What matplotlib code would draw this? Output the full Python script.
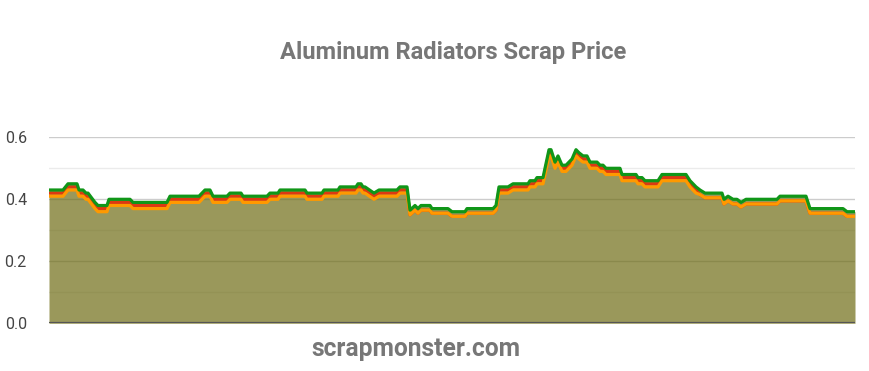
import matplotlib
matplotlib.use("Agg")
import matplotlib.pyplot as plt

# Day index of each vertex (no x labels in the reference)
day = [0, 14, 19, 28, 30, 34, 37, 39, 46, 49, 58, 60, 81, 84, 118, 121, 150, 156, 161, 164,
       178, 181, 192, 194, 218, 221, 229, 231, 256, 258, 273, 275, 289, 291, 307, 309, 312, 314, 316, 325,
       330, 348, 351, 358, 361, 366, 369, 372, 381, 383, 399, 403, 416, 418, 444, 447, 450, 459, 464, 479,
       481, 486, 488, 494, 500, 502, 506, 509, 513, 517, 520, 523, 527, 530, 534, 538, 541, 548, 551, 554,
       557, 571, 573, 587, 589, 593, 596, 609, 613, 637, 641, 644, 647, 651, 656, 673, 675, 679, 684, 688,
       692, 697, 728, 731, 757, 761, 794, 798, 806]

high = [.43, .43, .45, .45, .43, .43, .42, .42, .39, .38, .38, .40, .40, .39, .39, .41, .41, .43, .43, .41,
        .41, .42, .42, .41, .41, .42, .42, .43, .43, .42, .42, .43, .43, .44, .44, .45, .45, .44, .44, .42,
        .43, .43, .44, .44, .365, .38, .37, .38, .38, .37, .37, .36, .36, .37, .37, .38, .44, .44, .45, .45,
        .46, .46, .47, .47, .56, .56, .52, .54, .51, .51, .52, .53, .56, .55, .54, .54, .52, .52, .51, .51,
        .50, .50, .48, .48, .47, .47, .46, .46, .48, .48, .46, .45, .44, .43, .42, .42, .40, .41, .40, .40,
        .39, .40, .40, .41, .41, .37, .37, .36, .36]

mid = [.42, .42, .44, .44, .42, .42, .41, .41, .38, .37, .37, .39, .39, .38, .38, .40, .40, .42, .42, .40,
       .40, .41, .41, .40, .40, .41, .41, .42, .42, .41, .41, .42, .42, .43, .43, .44, .44, .43, .43, .41,
       .42, .42, .43, .43, .35, .365, .355, .365, .365, .355, .355, .345, .345, .355, .355, .365, .43, .43, .44, .44,
       .45, .45, .46, .46, .55, .55, .51, .53, .50, .50, .51, .52, .55, .54, .53, .53, .51, .51, .50, .50,
       .49, .49, .47, .47, .46, .46, .45, .45, .47, .47, .45, .44, .43, .415, .405, .405, .385, .395, .385, .385,
       .375, .385, .385, .395, .395, .355, .355, .345, .345]

low = [.41, .41, .43, .43, .41, .41, .40, .40, .37, .36, .36, .38, .38, .37, .37, .39, .39, .41, .41, .39,
       .39, .40, .40, .39, .39, .40, .40, .41, .41, .40, .40, .41, .41, .42, .42, .43, .43, .42, .42, .40,
       .41, .41, .42, .42, .35, .365, .355, .365, .365, .355, .355, .345, .345, .355, .355, .365, .42, .42, .43, .43,
       .44, .44, .45, .45, .54, .54, .50, .52, .49, .49, .50, .51, .54, .53, .52, .52, .50, .50, .49, .49,
       .48, .48, .46, .46, .45, .45, .44, .44, .46, .46, .44, .43, .42, .415, .405, .405, .385, .395, .385, .385,
       .375, .385, .385, .395, .395, .355, .355, .345, .345]

yticks = [0.0, 0.2, 0.4, 0.6]
ytick_labels = ["0.0", "0.2", "0.4", "0.6"]
minor_grid = [0.1, 0.3, 0.5]

title = "Aluminum Radiators Scrap Price"
watermark = "scrapmonster.com"

plt.rcParams['font.family'] = ['Roboto', 'DejaVu Sans']

fig = plt.figure(figsize=(8.69, 3.71), dpi=100)
ax = fig.add_axes([49/869, 1 - 323.3/371, (855 - 49)/869, (323.3 - 137.3)/371])

# gridlines (behind the translucent area)
for g in minor_grid:
    ax.axhline(g, color="#ebebeb", lw=1.0, zorder=0)
for g in yticks[1:]:
    ax.axhline(g, color="#cccccc", lw=1.0, zorder=0)

ax.fill_between(day, 0, high, color=(111/255, 109/255, 22/255), alpha=0.7, lw=0, zorder=1)

ax.plot(day, mid, color="#dc3912", lw=2.3, zorder=3, solid_joinstyle="round")
ax.plot(day, low, color="#ff9900", lw=2.3, zorder=4, solid_joinstyle="round")
ax.plot(day, high, color="#109618", lw=2.3, zorder=5, solid_joinstyle="round")

ax.axhline(0, color="#555555", lw=1.6, zorder=6)

ax.set_xlim(day[0], day[-1])
ax.set_ylim(0, 0.6)
ax.set_yticks(yticks)
ax.set_yticklabels(ytick_labels)
ax.set_xticks([])
ax.tick_params(axis="y", length=0, pad=16, labelsize=11.5, labelcolor="#444444")
for s in ax.spines.values():
    s.set_visible(False)
ax.patch.set_alpha(0)

fig.text(453/869, 1 - 52/371, title, ha="center", va="center", fontsize=17.1,
         fontweight="bold", color="#777777")
fig.text(415.5/869, 1 - 349/371, watermark, ha="center", va="center", fontsize=17.7,
         fontweight="bold", color="#777777")

fig.savefig("out.png", dpi=100)
